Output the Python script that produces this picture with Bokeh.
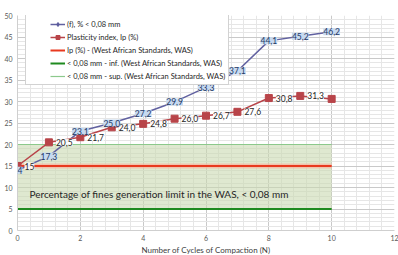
from bokeh.plotting import figure
from bokeh.models import (ColumnDataSource, LabelSet, Label, Legend, LegendItem,
                          Range1d, FixedTicker)
from bokeh.core.properties import value
from bokeh.embed import file_html
from bokeh.resources import INLINE

cycles = [0, 1, 2, 3, 4, 5, 6, 7, 8, 9, 10]
fines = [14.0, 17.3, 23.1, 25.0, 27.2, 29.9, 33.3, 37.1, 44.1, 45.2, 46.2]
fines_labels = ["14", "17,3", "23,1", "25,0", "27,2", "29,9", "33,3", "37,1", "44,1", "45,2", "46,2"]
ip = [15.0, 20.5, 21.7, 24.0, 24.8, 26.0, 26.7, 27.6, 30.8, 31.3, 30.6]
ip_labels = ["15", "20,5", "21,7", "24,0", "24,8", "26,0", "26,7", "27,6", "30,8", "31,3", ""]
was_x = [0, 10]
was_ip = [15, 15]
was_inf = [5, 5]
was_sup = [20, 20]
x_ticks = [0, 2, 4, 6, 8, 10, 12]
y_ticks = [0, 5, 10, 15, 20, 25, 30, 35, 40, 45, 50]
band_text = "Percentage of fines generation limit in the WAS, < 0,08 mm"
x_title = "Number of Cycles of Compaction (N)"

FONT = "Lato"

p = figure(frame_width=377, frame_height=215, output_backend="svg", toolbar_location=None,
           x_range=Range1d(0, 12), y_range=Range1d(0, 50),
           min_border_left=17, min_border_right=4, min_border_top=15, min_border_bottom=0)
p.outline_line_color = None
p.background_fill_color = "white"

for ax in (p.xaxis[0], p.yaxis[0]):
    ax.axis_line_color = "#cfcfcf"
    ax.major_tick_line_color = None
    ax.minor_tick_line_color = None
    ax.major_tick_out = 0
    ax.major_tick_in = 0
    ax.minor_tick_out = 0
    ax.minor_tick_in = 0
    ax.major_label_text_font = FONT
    ax.major_label_text_font_size = "7px"
    ax.major_label_text_color = "#595959"
p.xaxis[0].ticker = FixedTicker(ticks=x_ticks, minor_ticks=[i * 0.4 for i in range(31)])
p.yaxis[0].ticker = FixedTicker(ticks=y_ticks, minor_ticks=list(range(51)))
p.xaxis[0].major_label_standoff = 4
p.yaxis[0].major_label_standoff = 5
p.xaxis[0].axis_label = x_title
p.xaxis[0].axis_label_text_font = FONT
p.xaxis[0].axis_label_text_font_size = "8px"
p.xaxis[0].axis_label_text_font_style = "normal"
p.xaxis[0].axis_label_text_color = "#404040"
p.xaxis[0].axis_label_standoff = 1

for g in (p.xgrid[0], p.ygrid[0]):
    g.grid_line_color = "#c9c9c9"
    g.minor_grid_line_color = "#e6e6e6"

# WAS band
p.varea(x=was_x, y1=was_inf, y2=was_sup, fill_color="#c9d8b0", fill_alpha=0.6)
r_sup = p.line(was_x, was_sup, line_color="#8cc98c", line_width=1.2)
r_inf = p.line(was_x, was_inf, line_color="#1f8a1f", line_width=2)
p.line(was_x, was_ip, line_color="#f6b3a0", line_width=5, line_alpha=0.7)
r_ip_was = p.line(was_x, was_ip, line_color="#e8391f", line_width=2)

p.add_layout(Label(x=0.38, y=8.4, text=band_text, text_font=FONT,
                   text_font_size="10px", text_color="#262626", text_baseline="middle"))

src_f = ColumnDataSource(dict(x=cycles, y=fines, t=fines_labels))
src_i = ColumnDataSource(dict(x=cycles, y=ip, t=ip_labels))
src_f_lab = ColumnDataSource(dict(x=cycles[1:], y=fines[1:], t=fines_labels[1:]))

rf_line = p.line("x", "y", source=src_f, line_color="#6161a0", line_width=1.5)
rf_pts = p.scatter("x", "y", source=src_f, marker="diamond", size=6, color="#5a5a9c")
ri_line = p.line("x", "y", source=src_i, line_color="#b84449", line_width=1.5)
ri_pts = p.scatter("x", "y", source=src_i, marker="square", size=7, color="#b84449")

p.add_layout(LabelSet(x="x", y="y", text="t", source=src_i, x_offset=7,
                      text_align="left", text_baseline="middle", text_font=value(FONT),
                      text_font_size="8.5px", text_color="#262626",
                      background_fill_color="white", background_fill_alpha=0.9))
p.add_layout(LabelSet(x="x", y="y", text="t", source=src_f_lab,
                      text_align="center", text_baseline="middle", text_font=value(FONT),
                      text_font_size="8.5px", text_color="#1f3864",
                      background_fill_color="#c6d9f0", background_fill_alpha=1.0,
                      border_line_color=None))
# first point's label sits across the left edge of the plot area
p.add_layout(Label(x=cycles[0], y=fines[0], text=fines_labels[0],
                   text_align="center", text_baseline="middle", text_font=FONT,
                   text_font_size="8.5px", text_color="#1f3864",
                   background_fill_color="#c6d9f0", background_fill_alpha=1.0))

# legend frame: a one-item legend used only as the bordered white box
ghost = p.line([], [], line_alpha=0)
box = Legend(items=[LegendItem(label=" ", renderers=[ghost])], location=(8, 145))
box.padding = 0
box.margin = 0
box.spacing = 0
box.glyph_width = 1
box.glyph_height = 69
box.label_width = 200
box.label_height = 69
box.label_standoff = 1
box.border_line_color = "#a6a6a6"
box.background_fill_color = "white"
box.background_fill_alpha = 1.0
p.add_layout(box, "center")

legend = Legend(items=[
    LegendItem(label="(f), % < 0,08 mm", renderers=[rf_line, rf_pts]),
    LegendItem(label="Plasticity index, Ip (%)", renderers=[ri_line, ri_pts]),
    LegendItem(label="Ip (%) - (West African Standards, WAS)", renderers=[r_ip_was]),
    LegendItem(label="< 0,08 mm - inf. (West African Standards, WAS)", renderers=[r_inf]),
    LegendItem(label="< 0,08 mm - sup. (West African Standards, WAS)", renderers=[r_sup]),
], location=(33, 149))
legend.label_text_font = FONT
legend.label_text_font_size = "7.5px"
legend.label_text_color = "#262626"
legend.label_height = 10
legend.glyph_height = 10
legend.glyph_width = 15
legend.spacing = 3
legend.padding = 0
legend.margin = 0
legend.label_standoff = 2
legend.border_line_color = None
legend.background_fill_alpha = 0.0
p.add_layout(legend, "center")

open("out.html", "w").write(file_html(p, INLINE))
